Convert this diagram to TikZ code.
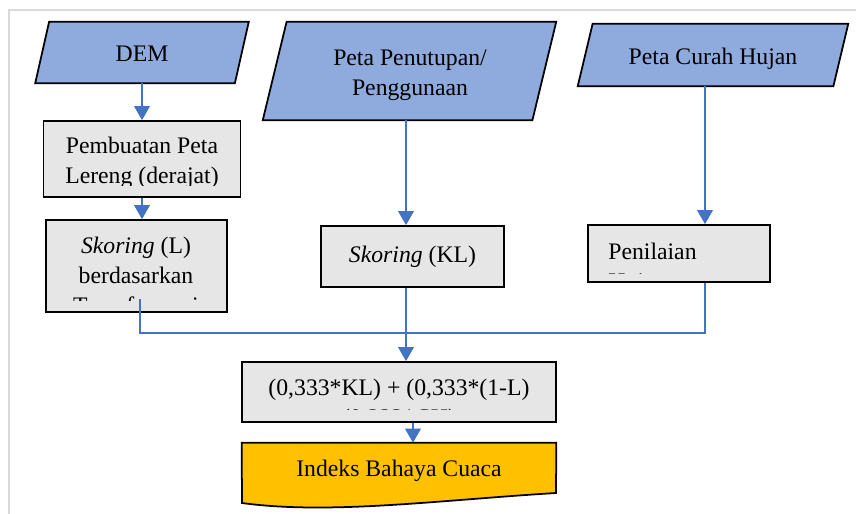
\documentclass[tikz,border=0pt]{standalone}
\usepackage{fontspec}
\setmainfont{Liberation Serif}
\usetikzlibrary{arrows.meta, positioning, backgrounds}

\definecolor{inputblue}{HTML}{8FAADC}
\definecolor{boxgrey}{HTML}{E7E6E6}
\definecolor{linkblue}{HTML}{4472C4}
\definecolor{resultorange}{HTML}{FFC000}
\definecolor{framegrey}{HTML}{DADADA}

% slanted outline round an input node: #1 node, #2 half the slant
\newcommand{\inputshape}[2]{%
  \draw[line width=1pt, fill=inputblue]
    ([xshift=-#2]#1.south west) -- ([xshift=-#2]#1.south east)
    -- ([xshift=#2]#1.north east) -- ([xshift=#2]#1.north west) -- cycle;}

\begin{document}
\begin{tikzpicture}[
  x=0.02cm, y=-0.02cm,
  font=\fontsize{13.5}{17}\selectfont,
  input/.style={rectangle, inner sep=0pt, align=center, text height=10.8pt, text depth=0pt},
  procbox/.style={rectangle, draw, line width=1pt, fill=boxgrey},
  txt/.style={inner sep=0pt, align=center, anchor=north},
  flow/.style={draw=linkblue, line width=0.7pt, -{Triangle[width=9pt,length=8pt]}},
  link/.style={draw=linkblue, line width=0.7pt}
]
\useasboundingbox (0,0) rectangle (856,514);
\draw[framegrey, line width=1.4pt] (856,10) -- (9,10) -- (9,514);

\node[input, minimum width=3.98cm, minimum height=1.22cm] (dem) at (142,52.5) {DEM};
\node[input, minimum width=5.38cm, minimum height=1.96cm] (pen) at (409.5,71) {};
\node[txt, anchor=center] (pentxt) at (410,75.5) {Peta Penutupan/\\Penggunaan};
\node[input, minimum width=5.10cm, minimum height=1.24cm] (chj) at (713,55) {Peta Curah Hujan};

\node[procbox, minimum width=3.94cm, minimum height=1.52cm] (peta) at (142,159) {};
\node[procbox, minimum width=3.62cm, minimum height=1.84cm] (skl) at (136.5,266) {};
\node[procbox, minimum width=3.66cm, minimum height=1.22cm] (skkl) at (412.5,256.5) {\textit{Skoring} (KL)};
\node[procbox, minimum width=3.64cm, minimum height=1.14cm] (pnl) at (679,253.5) {};
\node[procbox, minimum width=6.28cm, minimum height=1.20cm] (frm) at (399,392) {};
\node[minimum width=6.28cm, minimum height=1.10cm, inner sep=0pt] (idx) at (399,470.5) {Indeks Bahaya Cuaca};

% texts cut off at the box bottom
\begin{scope}
  \clip (peta.north west) rectangle ([yshift=6.8pt]peta.south east);
  \node[txt] (petatxt) at (142,137) {Pembuatan Peta\\Lereng (derajat)};
\end{scope}
\begin{scope}
  \clip (skl.north west) rectangle ([yshift=6.8pt]skl.south east);
  \node[txt] (skltxt) at (136,237) {\textit{Skoring} (L)\\berdasarkan\\Transformasi};
\end{scope}
\begin{scope}
  \clip (pnl.north west) rectangle ([yshift=5.1pt]pnl.south east);
  \node[txt, anchor=north west, align=left] (pnltxt) at (608,243) {Penilaian\\Hujan};
\end{scope}
\begin{scope}
  \clip (frm.north west) rectangle ([yshift=7.4pt]frm.south east);
  \node[txt] (frmtxt) at (399,379) {(0,333*KL) + (0,333*(1-L)\\(0,333*CH)};
\end{scope}

\begin{scope}[on background layer]
  \inputshape{dem}{3.97pt}
  \inputshape{pen}{6.8pt}
  \inputshape{chj}{4.25pt}
  \draw[line width=1pt, fill=resultorange] (idx.north west) -- (idx.north east) -- (556,493)
    .. controls (440,500) and (330,515) .. (242,503) -- cycle;
\end{scope}

\coordinate (mid) at (406,333);
\coordinate (rx) at (705,333);
\coordinate (fx) at (413,432);

\draw[flow] (dem.south) -- (peta.north);
\draw[flow] (peta.south) -- (peta.south |- skl.north);
\draw[flow] (pen.south -| mid) -- (skkl.north -| mid);
\draw[flow] (chj.south -| rx) -- (pnl.north -| rx);
\draw[link] ([xshift=2pt,yshift=7.9pt]skl.south) |- (mid) -| (pnl.south -| rx);
\draw[flow] (skkl.south -| mid) -- (frm.north -| mid);
\draw[flow] (frm.south -| fx) -- (idx.north -| fx);

\end{tikzpicture}
\end{document}
